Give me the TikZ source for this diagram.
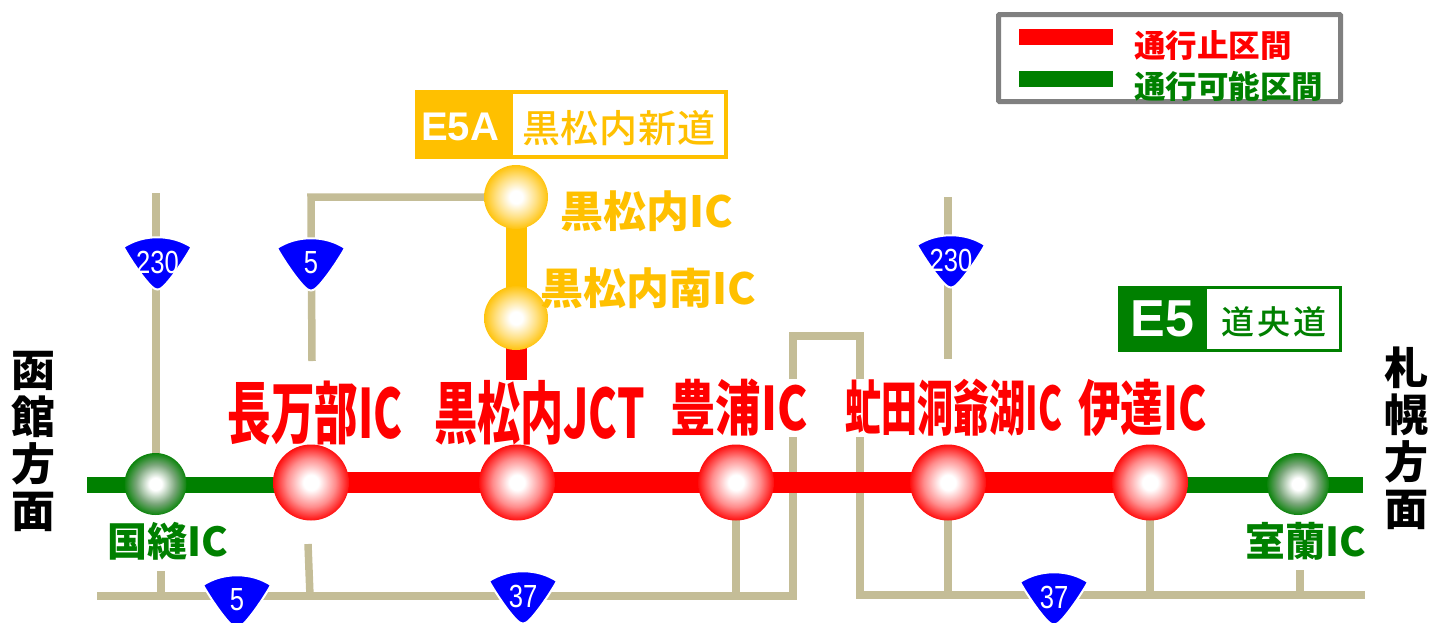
\documentclass[tikz,border=0pt]{standalone}
\usepackage{fontspec}
\usetikzlibrary{backgrounds}
\setmainfont{Liberation Sans}
\newfontfamily\cjk{Noto Sans CJK JP}[BoldFont={Noto Sans CJK JP Black}]
\newfontfamily\cjkmedium{Noto Sans CJK JP Medium}
\definecolor{roadtan}{HTML}{C4BD97}
\definecolor{closedred}{HTML}{FF0000}
\definecolor{opengreen}{HTML}{008000}
\definecolor{branchorange}{HTML}{FFC000}
\definecolor{legendgray}{HTML}{808080}
\pgfdeclareradialshading{red ball}{\pgfpoint{0bp}{0bp}}{color(0bp)=(white); color(5bp)=(white); color(16bp)=(closedred!45); color(26bp)=(closedred)}
\pgfdeclareradialshading{green ball}{\pgfpoint{0bp}{0bp}}{color(0bp)=(white); color(5bp)=(white); color(16bp)=(opengreen!50!gray!70); color(26bp)=(opengreen)}
\pgfdeclareradialshading{orange ball}{\pgfpoint{0bp}{0bp}}{color(0bp)=(white); color(5bp)=(white); color(16bp)=(branchorange!50); color(26bp)=(branchorange)}
\tikzstyle{road} = [draw=roadtan, line width=7.5pt]
\tikzstyle{closed line} = [draw=closedred, line width=21pt]
\tikzstyle{open line} = [draw=opengreen, line width=16pt]
\tikzstyle{branch line} = [draw=branchorange, line width=21pt]
\tikzstyle{big ic} = [circle, minimum size=76pt, inner sep=0pt, shading=red ball]
\tikzstyle{small ic} = [circle, minimum size=62pt, inner sep=0pt, shading=green ball]
\tikzstyle{branch ic} = [circle, minimum size=64pt, inner sep=0pt, shading=orange ball]
\tikzstyle{ic label} = [inner sep=0pt, font=\cjk\bfseries]
\tikzstyle{closed label} = [ic label, text=closedred, fill=white]
\tikzstyle{open label} = [ic label, text=opengreen, font=\cjk\bfseries\fontsize{40}{40}\selectfont]
\tikzstyle{branch label} = [ic label, text=branchorange, font=\cjk\bfseries\fontsize{43}{43}\selectfont]
\tikzstyle{side label} = [ic label, align=center, font=\cjk\bfseries\fontsize{44}{47}\selectfont]
\tikzstyle{shield text} = [inner sep=0pt, text=white, font=\fontsize{32}{32}\selectfont]
\tikzstyle{legend text} = [ic label, anchor=west, font=\cjk\bfseries\fontsize{31.5}{31.5}\selectfont]
\tikzstyle{legend bar} = [minimum width=94pt, minimum height=16pt, inner sep=0pt]
\newcommand{\squeeze}[2]{\scalebox{#1}[1]{#2}}
\newcommand{\roadshield}[3]{%
	\begin{scope}[shift={(#2)}]
		\filldraw[blue, draw=white, line width=2pt] (-34,-15) .. controls (-14,-28) and (14,-28) .. (34,-15)
		  .. controls (28,-4) and (12,20) .. (4,26) .. controls (1,28) and (-1,28) .. (-4,26)
		  .. controls (-12,20) and (-28,-4) .. (-34,-15) -- cycle;
	\end{scope}
	\node[shield text] (#1) at (#2) {\squeeze{.8}{#3}};
}

\begin{document}
\begin{tikzpicture}[x=1pt, y=-1pt]
\useasboundingbox (0,0) rectangle (1429,622);

% road ends
\coordinate (r230 top) at (156,193);
\coordinate (r5 top) at (311,197);
\coordinate (r5 low) at (312,361);
\coordinate (r5 foot) at (308,544);
\coordinate (r5 foot end) at (310,596);
\coordinate (south west) at (97,596);
\coordinate (south mid) at (793,596);
\coordinate (loop west) at (793,336);
\coordinate (loop east) at (860,336);
\coordinate (south turn) at (860,595);
\coordinate (south east) at (1365,595);
\coordinate (kunnui foot) at (161,571);
\coordinate (kunnui foot end) at (161,596);
\coordinate (toyoura foot) at (737,596);
\coordinate (abuta top) at (948,197);
\coordinate (abuta low) at (948,359);
\coordinate (abuta foot) at (948,595);
\coordinate (date foot) at (1151,595);
\coordinate (muroran foot) at (1300,570);
\coordinate (muroran foot end) at (1300,595);
\coordinate (line west) at (87,485);
\coordinate (line east) at (1363,485);
\coordinate (jct stub) at (516,380);

% interchanges
\path node[small ic] (kunnui) at (155.5,484) {}
      node[big ic] (oshamambe) at (311,482.5) {}
      node[big ic] (kuromatsunai jct) at (517,482.5) {}
      node[big ic] (toyoura) at (736,482.5) {}
      node[big ic] (abuta) at (948,482.5) {}
      node[big ic] (date) at (1150,482.5) {}
      node[small ic] (muroran) at (1298,484) {}
      node[branch ic] (kuromatsunai) at (516,197) {}
      node[branch ic] (kuromatsunai south) at (516,318) {};

\begin{scope}[on background layer]
	% general roads
	\draw[road] (r230 top) -- (r230 top|-kunnui.center);
	\draw[road, line join=miter] (kuromatsunai.center) -- (r5 top) -- (r5 low);
	\draw[road] (r5 foot) -- (r5 foot end);
	\draw[road, line join=miter] (south west) -- (south mid) -- (loop west) -- (loop east) -- (south turn) -- (south east);
	\draw[road] (kunnui foot) -- (kunnui foot end);
	\draw[road] (toyoura.center) -- (toyoura.center|-toyoura foot);
	\draw[road] (abuta top) -- (abuta low);
	\draw[road] (abuta.center) -- (abuta foot);
	\draw[road] (date.center) -- (date.center|-date foot);
	\draw[road] (muroran foot) -- (muroran foot end);

	% route names on their white ground
	\node[closed label] (oshamambe name) at (315,413) {\fontsize{68}{68}\selectfont\squeeze{.64}{長万部IC}};
	\node[closed label] (jct name) at (539.5,413) {\fontsize{68}{68}\selectfont\squeeze{.635}{黒松内JCT}};
	\node[closed label] (toyoura name) at (739,408) {\fontsize{60}{60}\selectfont\squeeze{.76}{豊浦IC}};
	\node[closed label] (abuta name) at (954,408) {\fontsize{60}{60}\selectfont\squeeze{.6}{虻田洞爺湖IC}};
	\node[closed label] (date name) at (1142.5,408) {\fontsize{60}{60}\selectfont\squeeze{.71}{伊達IC}};

	% expressway
	\draw[open line] (line west) -- (oshamambe.center|-line west);
	\draw[open line] (date.center|-line east) -- (line east);
	\draw[closed line] (oshamambe.center) -- (kuromatsunai jct.center) -- (toyoura.center) -- (abuta.center) -- (date.center);
	\draw[branch line] (kuromatsunai.center) -- (kuromatsunai south.center);
	\draw[closed line] (kuromatsunai south.center) -- (jct stub);
\end{scope}

% other names
\node[open label] (kunnui name) at (167.5,541) {国縫IC};
\node[open label] (muroran name) at (1306,541) {室蘭IC};
\node[branch label] (kuromatsunai name) at (647,211) {黒松内IC};
\node[branch label] (kuromatsunai south name) at (648.5,288) {黒松内南IC};
\node[side label] (west name) at (33,441) {函\\館\\方\\面};
\node[side label] (east name) at (1406,438) {札\\幌\\方\\面};

% road shields
\roadshield{r230 west}{157.5,262}{230}
\roadshield{r5 north}{311,263}{5}
\roadshield{r230 east}{951,260}{230}
\roadshield{r5 south}{237,600}{5}
\roadshield{r37 west}{523,596}{37}
\roadshield{r37 east}{1054,597}{37}

% route badges
\node[draw=branchorange, line width=4pt, fill=white, minimum width=309pt, minimum height=65pt, inner sep=0pt] (e5a frame) at (571.5,124.5) {};
\node[fill=branchorange, minimum width=98pt, minimum height=69pt, inner sep=0pt] (e5a tag) at (464,124.5) {};
\node[inner sep=0pt, text=white, font=\bfseries\fontsize{40}{40}\selectfont] (e5a text) at (460,127) {E5A};
\node[inner sep=0pt, text=branchorange, font=\cjkmedium\fontsize{38}{38}\selectfont] (e5a name) at (619,128) {黒\kern1pt 松\kern1pt 内\kern1pt 新\kern1pt 道};
\node[draw=opengreen, line width=3pt, fill=white, minimum width=221pt, minimum height=63pt, inner sep=0pt] (e5 frame) at (1230,319) {};
\node[fill=opengreen, minimum width=89pt, minimum height=66pt, inner sep=0pt] (e5 tag) at (1162.5,319) {};
\node[inner sep=0pt, text=white, font=\bfseries\fontsize{52}{52}\selectfont] (e5 text) at (e5 tag) {E5};
\node[inner sep=0pt, text=opengreen, font=\cjkmedium\fontsize{33}{33}\selectfont] (e5 name) at (1274,322) {道\kern3pt 央\kern3pt 道};

% legend
\node[draw=legendgray, line width=5pt, fill=white, rounded corners=1pt, minimum width=342pt, minimum height=87pt, inner sep=0pt] (legend box) at (1169.5,58) {};
\node[legend bar, fill=closedred] (closed bar) at (1066,37) {};
\node[legend bar, fill=opengreen] (open bar) at (1066,79) {};
\node[legend text, text=closedred] (closed text) at (1134,46) {通行止区間};
\node[legend text, text=opengreen] (open text) at (1134,86) {通行可能区間};
\end{tikzpicture}
\end{document}
